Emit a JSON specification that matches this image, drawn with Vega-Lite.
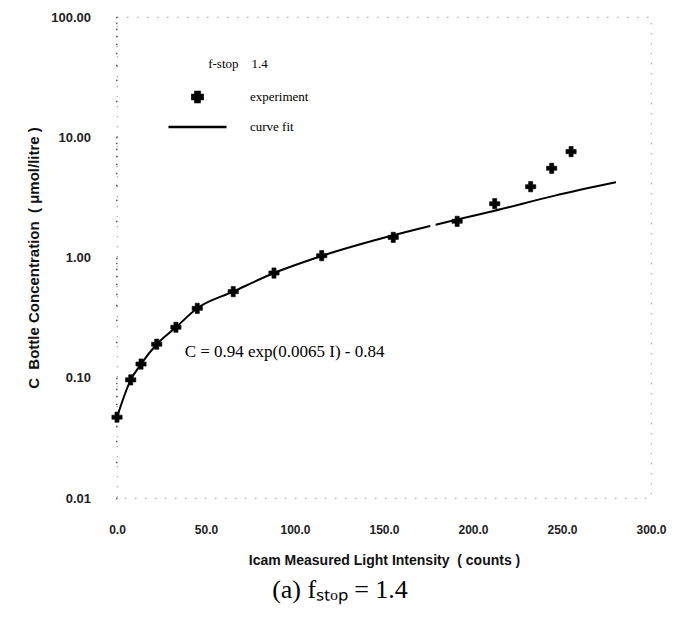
{
  "$schema": "https://vega.github.io/schema/vega-lite/v6.json",
  "width": 534,
  "height": 481,
  "autosize": "none",
  "padding": {"left": 117, "top": 17, "right": 24, "bottom": 120},
  "background": "white",
  "config": {
    "view": {"stroke": "#888", "strokeDash": [1, 9], "strokeWidth": 1.2},
    "font": "Liberation Sans"
  },
  "title": {
    "text": "(a) fₛₜₒₚ = 1.4",
    "orient": "bottom",
    "anchor": "middle",
    "font": "Liberation Serif",
    "fontSize": 26,
    "fontWeight": "normal",
    "color": "black",
    "dx": -44,
    "offset": 10
  },
  "datasets": {
    "main": [
      {"series": "experiment", "I": 0, "C": 0.047, "seg": "e"},
      {"series": "experiment", "I": 7.7, "C": 0.096, "seg": "e"},
      {"series": "experiment", "I": 13.5, "C": 0.13, "seg": "e"},
      {"series": "experiment", "I": 22.3, "C": 0.19, "seg": "e"},
      {"series": "experiment", "I": 33.1, "C": 0.263, "seg": "e"},
      {"series": "experiment", "I": 45.1, "C": 0.378, "seg": "e"},
      {"series": "experiment", "I": 65.3, "C": 0.52, "seg": "e"},
      {"series": "experiment", "I": 88.2, "C": 0.743, "seg": "e"},
      {"series": "experiment", "I": 115.0, "C": 1.035, "seg": "e"},
      {"series": "experiment", "I": 155.2, "C": 1.47, "seg": "e"},
      {"series": "experiment", "I": 191.1, "C": 2.0, "seg": "e"},
      {"series": "experiment", "I": 212.2, "C": 2.8, "seg": "e"},
      {"series": "experiment", "I": 232.4, "C": 3.88, "seg": "e"},
      {"series": "experiment", "I": 244.2, "C": 5.52, "seg": "e"},
      {"series": "experiment", "I": 255.1, "C": 7.59, "seg": "e"},
      {"series": "curve fit", "I": 0, "C": 0.047, "seg": "a"},
      {"series": "curve fit", "I": 7.7, "C": 0.096, "seg": "a"},
      {"series": "curve fit", "I": 13.5, "C": 0.13, "seg": "a"},
      {"series": "curve fit", "I": 22.3, "C": 0.19, "seg": "a"},
      {"series": "curve fit", "I": 33.1, "C": 0.263, "seg": "a"},
      {"series": "curve fit", "I": 45.1, "C": 0.378, "seg": "a"},
      {"series": "curve fit", "I": 65.3, "C": 0.52, "seg": "a"},
      {"series": "curve fit", "I": 88.2, "C": 0.743, "seg": "a"},
      {"series": "curve fit", "I": 115.0, "C": 1.03, "seg": "a"},
      {"series": "curve fit", "I": 155.2, "C": 1.53, "seg": "a"},
      {"series": "curve fit", "I": 176.0, "C": 1.83, "seg": "a"},
      {"series": "curve fit", "I": 179.0, "C": 1.87, "seg": "b"},
      {"series": "curve fit", "I": 191.1, "C": 2.07, "seg": "b"},
      {"series": "curve fit", "I": 212.2, "C": 2.45, "seg": "b"},
      {"series": "curve fit", "I": 246.0, "C": 3.27, "seg": "b"},
      {"series": "curve fit", "I": 280.3, "C": 4.22, "seg": "b"}
    ],
    "note": [
      {"I": 38, "C": 0.164, "label": "C = 0.94 exp(0.0065 I) - 0.84"}
    ]
  },
  "encoding": {
    "x": {
      "field": "I",
      "type": "quantitative",
      "scale": {"domain": [0, 300], "nice": false, "zero": false},
      "axis": {
        "title": "Icam  Measured Light Intensity  \u00a0( counts )",
        "values": [0, 50, 100, 150, 200, 250, 300],
        "format": ".1f",
        "grid": false,
        "domain": false,
        "ticks": false,
        "labelPadding": 26,
        "labelFont": "Liberation Sans",
        "labelFontSize": 12,
        "labelFontWeight": "bold",
        "labelColor": "#222",
        "labelFlush": false,
        "titleFont": "Liberation Sans",
        "titleFontSize": 14,
        "titleFontWeight": "bold",
        "titleColor": "#111",
        "titlePadding": 18
      }
    },
    "y": {
      "field": "C",
      "type": "quantitative",
      "scale": {"type": "log", "domain": [0.01, 100], "nice": false},
      "axis": {
        "title": "C \u00a0Bottle Concentration \u00a0( μmol/litre )",
        "values": [0.01, 0.02, 0.03, 0.04, 0.05, 0.06, 0.07, 0.08, 0.09, 0.1, 0.2, 0.3, 0.4, 0.5, 0.6, 0.7, 0.8, 0.9, 1, 2, 3, 4, 5, 6, 7, 8, 9, 10, 20, 30, 40, 50, 60, 70, 80, 90, 100],
        "labelExpr": "indexof([0.01, 0.1, 1, 10, 100], datum.value) >= 0 ? format(datum.value, '.2f') : ''",
        "grid": false,
        "domain": false,
        "ticks": true,
        "tickSize": 1.5,
        "tickColor": "#555",
        "tickWidth": 1.5,
        "labelPadding": 25,
        "labelFont": "Liberation Sans",
        "labelFontSize": 13,
        "labelFontWeight": "bold",
        "labelColor": "#222",
        "labelFlush": false,
        "titleFont": "Liberation Sans",
        "titleFontSize": 15,
        "titleFontWeight": "bold",
        "titleColor": "#111",
        "titlePadding": 9
      }
    }
  },
  "layer": [
    {
      "data": {"name": "main"},
      "transform": [{"filter": "datum.series === 'curve fit'"}],
      "mark": {"type": "line", "color": "black", "strokeWidth": 2, "interpolate": "monotone"},
      "encoding": {"detail": {"field": "seg", "type": "nominal"}}
    },
    {
      "data": {"name": "main"},
      "transform": [{"filter": "datum.series === 'experiment'"}],
      "mark": {"type": "point", "filled": true, "color": "black", "stroke": "black", "strokeWidth": 0.6, "opacity": 1},
      "encoding": {
        "shape": {
          "field": "series",
          "type": "nominal",
          "scale": {"domain": ["experiment", "curve fit"], "range": ["cross", "stroke"]},
          "legend": {
            "title": "f-stop \u00a0\u00a0 1.4",
            "orient": "none",
            "legendX": 50,
            "legendY": 41,
            "padding": 0,
            "titleAnchor": "middle",
            "titleFont": "Liberation Serif",
            "titleFontSize": 13,
            "titleFontWeight": "normal",
            "titleColor": "black",
            "titlePadding": 11,
            "labelFont": "Liberation Serif",
            "labelFontSize": 13,
            "labelColor": "black",
            "labelOffset": 22,
            "clipHeight": 30,
            "rowPadding": 0,
            "symbolStrokeColor": "black",
            "symbolFillColor": "black",
            "symbolStrokeWidth": 2.5,
            "symbolOpacity": 1
          }
        },
        "size": {
          "field": "series",
          "type": "nominal",
          "scale": {"type": "ordinal", "domain": ["experiment", "curve fit"], "range": [105, 3364]},
          "legend": {
            "title": "f-stop \u00a0\u00a0 1.4"
          }
        }
      }
    },
    {
      "data": {"name": "note"},
      "mark": {"type": "text", "align": "left", "baseline": "middle", "font": "Liberation Serif", "fontSize": 17, "color": "black"},
      "encoding": {"text": {"field": "label"}}
    }
  ]
}
